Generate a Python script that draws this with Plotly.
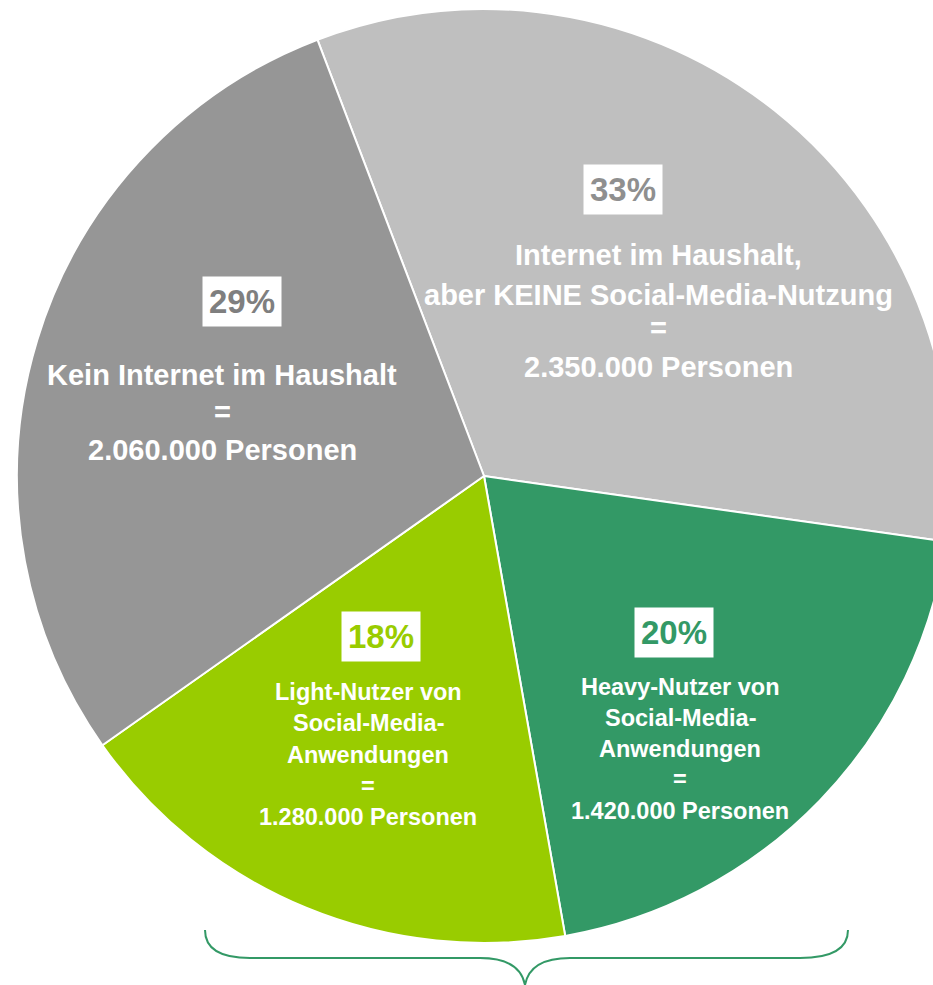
import plotly.graph_objects as go

# ---- data ----
categories = [
    "Internet im Haushalt, aber KEINE Social-Media-Nutzung",
    "Heavy-Nutzer von Social-Media-Anwendungen",
    "Light-Nutzer von Social-Media-Anwendungen",
    "Kein Internet im Haushalt",
]
persons = [2350000, 1420000, 1280000, 2060000]
label_lines = [
    ["Internet im Haushalt,", "aber KEINE Social-Media-Nutzung", "=", "2.350.000 Personen"],
    ["Heavy-Nutzer von", "Social-Media-", "Anwendungen", "=", "1.420.000 Personen"],
    ["Light-Nutzer von", "Social-Media-", "Anwendungen", "=", "1.280.000 Personen"],
    ["Kein Internet im Haushalt", "=", "2.060.000 Personen"],
]

slice_colors = ["#bfbfbf", "#339966", "#99cc00", "#969696"]
pct_colors = ["#8f8f8f", "#339966", "#99cc00", "#7f7f7f"]

FONT = "Liberation Sans"
W, H = 960, 985
OFF = 0  # page offset of the plot div (body margin removed below)
CX, CY, R = 484, 476, 467


def px(x, y):
    return (x - OFF) / W, 1 - (y - OFF) / H


x0, y1 = px(CX - R, CY - R)
x1, y0 = px(CX + R, CY + R)

fig = go.Figure(go.Pie(
    labels=categories,
    values=persons,
    sort=False,
    direction="clockwise",
    rotation=-20.9,
    marker=dict(colors=slice_colors, line=dict(color="white", width=2)),
    textinfo="none",
    hoverinfo="label+value+percent",
    domain=dict(x=[x0, x1], y=[y0, y1]),
    showlegend=False,
))

total = sum(persons)
# layout positions (pixels) for each label block
pct_pos = [(623, 189), (674, 632), (381, 636), (242, 301)]
text_x = [658, 680, 368, 222]
text_y = [[255, 295, 328, 367], [687, 718, 749, 779, 811], [692, 723, 755, 786, 817], [375, 412, 450]]
text_size = [29, 23.5, 23.5, 29]

annotations = []
for i, v in enumerate(persons):
    pct = round(v / total * 100)
    ax, ay = px(*pct_pos[i])
    annotations.append(dict(
        x=ax, y=ay, xref="paper", yref="paper", showarrow=False,
        text=f"<b>{pct}%</b>", bgcolor="white", borderpad=6,
        font=dict(family=FONT, size=33, color=pct_colors[i]),
        xanchor="center", yanchor="middle",
    ))
    for line, ly in zip(label_lines[i], text_y[i]):
        lx, lyp = px(text_x[i], ly)
        annotations.append(dict(
            x=lx, y=lyp, xref="paper", yref="paper", showarrow=False,
            text=f"<b>{line}</b>",
            font=dict(family=FONT, size=text_size[i], color="white"),
            xanchor="center", yanchor="middle",
        ))

# curly brace below the two social-media slices
pts = [(205, 930), (205, 958), (250, 958), (480, 958), (520, 958), (525, 985),
       (530, 958), (570, 958), (800, 958), (848, 958), (848, 930)]
p = [px(*q) for q in pts]
path = (f"M {p[0][0]},{p[0][1]} Q {p[1][0]},{p[1][1]} {p[2][0]},{p[2][1]} "
        f"L {p[3][0]},{p[3][1]} Q {p[4][0]},{p[4][1]} {p[5][0]},{p[5][1]} "
        f"Q {p[6][0]},{p[6][1]} {p[7][0]},{p[7][1]} L {p[8][0]},{p[8][1]} "
        f"Q {p[9][0]},{p[9][1]} {p[10][0]},{p[10][1]}")

fig.update_layout(
    width=W, height=H,
    margin=dict(l=0, r=0, t=0, b=0),
    paper_bgcolor="white",
    plot_bgcolor="white",
    annotations=annotations,
    shapes=[dict(type="path", path=path, xref="paper", yref="paper",
                 line=dict(color="#339966", width=2))],
)

fig.write_html(
    "out.html",
    config={"displayModeBar": False},
    post_script="document.body.style.margin='0';document.body.style.overflow='hidden';",
)
